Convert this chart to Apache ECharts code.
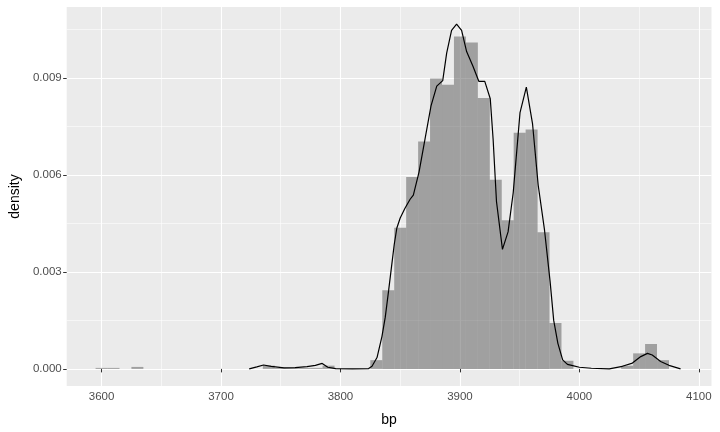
<!DOCTYPE html>
<html>
<head>
<meta charset="utf-8">
<script src="https://cdn.jsdelivr.net/npm/echarts@6/dist/echarts.min.js"></script>
<style>
html,body{margin:0;padding:0;background:#fff;}
#chart{width:720px;height:432px;}
</style>
</head>
<body>
<div id="chart"></div>
<script>
// Histogram bins (bin centres, width 10 bp) and densities
const binCenters = [3600, 3610, 3630, 3740, 3750, 3760, 3770, 3780, 3790,
  3830, 3840, 3850, 3860, 3870, 3880, 3890, 3900, 3910, 3920, 3930, 3940,
  3950, 3960, 3970, 3980, 3990, 4040, 4050, 4060, 4070];
const binDensity = [0.00003, 0.00003, 0.00006, 0.0001, 0.00003, 0.00003, 0.00003, 0.00003, 0.0001,
  0.00027, 0.00243, 0.00437, 0.00594, 0.00704, 0.00899, 0.00879, 0.01029, 0.0101, 0.00838, 0.00585, 0.0046,
  0.00731, 0.00741, 0.00423, 0.00142, 0.00025, 0.0001, 0.00048, 0.00077, 0.00027];
const binWidth = 10;

// Kernel density curve
const densX = [3723.6, 3730, 3735.6, 3742, 3752.8, 3762, 3772, 3779, 3784.7, 3789.4, 3796, 3810,
  3823.6, 3826.4, 3830.6, 3834.7, 3837.5, 3840.3, 3843, 3845, 3847.2, 3850, 3854, 3858.3, 3861,
  3865.8, 3870.8, 3875.8, 3880.6, 3885.6, 3888.9, 3893, 3897.2, 3901.4, 3905.6, 3911, 3915.8,
  3920.8, 3925.4, 3927.8, 3930.6, 3935.6, 3940.3, 3944.6, 3950.3, 3955.6, 3960.8, 3965.5, 3970.8,
  3975.5, 3978.5, 3982, 3986, 3990, 3994.4, 4000, 4010, 4025, 4036, 4044.4, 4051.4, 4057, 4061,
  4068, 4075, 4084.7];
const densY = [0, 0.00006, 0.00012, 0.00008, 0.00003, 0.00004, 0.00007, 0.00011, 0.00017, 0.00005, 0.00001, 0,
  0.00001, 0.00008, 0.00035, 0.001, 0.0016, 0.00242, 0.00324, 0.00385, 0.00436, 0.00467, 0.00497, 0.00525, 0.00538,
  0.0061, 0.00712, 0.00814, 0.00875, 0.00892, 0.00977, 0.01048, 0.01067, 0.01048, 0.00982, 0.00936, 0.0089,
  0.0089, 0.00836, 0.0071, 0.00518, 0.0037, 0.00424, 0.00545, 0.00793, 0.00872, 0.00758, 0.00569, 0.0043,
  0.0027, 0.0015, 0.00079, 0.00028, 0.00014, 0.0001, 0.00005, 0.00002, 0, 0.00008, 0.00018, 0.00038, 0.00048, 0.00043,
  0.00023, 0.00011, 0];

const xTicks = [3600, 3700, 3800, 3900, 4000, 4100];
const xMinor = [3650, 3750, 3850, 3950, 4050];
const yTicks = [0, 0.003, 0.006, 0.009];
const yMinor = [0.0015, 0.0045, 0.0075, 0.0105];

const xMin = 3570.8, xMax = 4110.6;
const yMin = -0.00053, yMax = 0.0112;

const chart = echarts.init(document.getElementById('chart'), null, {renderer: 'canvas'});
const font = '"Liberation Sans", Arial, Helvetica, sans-serif';

const histData = binCenters.map((c, i) => [c - binWidth / 2, c + binWidth / 2, binDensity[i]]);
const lineData = densX.map((x, i) => [x, densY[i]]);

const option = {
  animation: false,
  backgroundColor: '#ffffff',
  grid: {left: 65, right: 8.5, top: 7, bottom: 42, show: true, backgroundColor: '#EBEBEB', borderWidth: 0},
  xAxis: [
    {
      type: 'value', min: xMin, max: xMax, position: 'bottom',
      name: 'bp', nameLocation: 'middle', nameGap: 27,
      nameTextStyle: {color: '#000', fontSize: 14, fontFamily: font},
      axisLine: {show: false},
      axisTick: {show: true, length: 3.5, lineStyle: {color: '#333333', width: 1}, customValues: xTicks},
      axisLabel: {color: '#4D4D4D', fontSize: 11.5, fontFamily: font, margin: 5, customValues: xTicks,
        formatter: v => String(v)},
      splitLine: {show: true, lineStyle: {color: '#FFFFFF', width: 1.1}}
    },
    {
      type: 'value', min: xMin, max: xMax, position: 'bottom',
      axisLine: {show: false},
      axisTick: {show: false, customValues: xMinor},
      axisLabel: {show: false, customValues: xMinor},
      splitLine: {show: true, lineStyle: {color: '#FFFFFF', width: 0.55}}
    }
  ],
  yAxis: [
    {
      type: 'value', min: yMin, max: yMax,
      name: 'density', nameLocation: 'middle', nameGap: 44, nameRotate: 90,
      nameTextStyle: {color: '#000', fontSize: 14, fontFamily: font},
      axisLine: {show: false},
      axisTick: {show: true, length: 3.5, lineStyle: {color: '#333333', width: 1}, customValues: yTicks},
      axisLabel: {color: '#4D4D4D', fontSize: 11.5, fontFamily: font, margin: 5, customValues: yTicks,
        formatter: v => v.toFixed(3)},
      splitLine: {show: true, lineStyle: {color: '#FFFFFF', width: 1.1}}
    },
    {
      type: 'value', min: yMin, max: yMax,
      axisLine: {show: false},
      axisTick: {show: false, customValues: yMinor},
      axisLabel: {show: false, customValues: yMinor},
      splitLine: {show: true, lineStyle: {color: '#FFFFFF', width: 0.55}}
    }
  ],
  series: [
    {
      type: 'custom',
      xAxisIndex: 0, yAxisIndex: 0,
      data: histData,
      encode: {x: [0, 1], y: 2},
      renderItem: function (params, api) {
        const p0 = api.coord([api.value(0), api.value(2)]);
        const p1 = api.coord([api.value(1), 0]);
        return {
          type: 'rect',
          shape: {x: p0[0], y: p0[1], width: p1[0] - p0[0], height: p1[1] - p0[1]},
          style: {fill: 'rgba(85,85,85,0.5)'}
        };
      },
      z: 2
    },
    {
      type: 'line',
      xAxisIndex: 0, yAxisIndex: 0,
      data: lineData,
      showSymbol: false,
      smooth: false,
      lineStyle: {color: '#000000', width: 1.2},
      z: 3
    }
  ]
};
chart.setOption(option);
</script>
</body>
</html>
